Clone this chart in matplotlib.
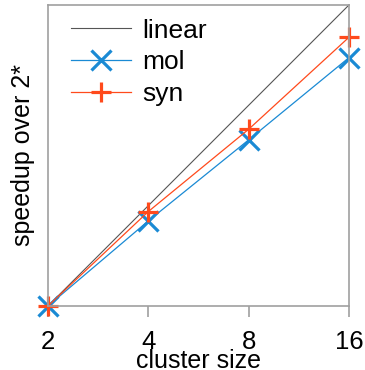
import numpy as np
import matplotlib
matplotlib.use('Agg')
import matplotlib.pyplot as plt
from matplotlib.ticker import NullLocator, FixedLocator, FixedFormatter

# Data
cluster_size = [2, 4, 8, 16]
linear = [1, 2, 4, 8]
mol = [1, 1.80, 3.15, 5.56]
syn = [1, 1.92, 3.39, 6.40]

plt.rcParams['font.family'] = ['Liberation Sans', 'DejaVu Sans']

fig = plt.figure(figsize=(3.65, 3.70), dpi=100)
ax = fig.add_axes([0.1315, 0.173, 0.956 - 0.1315, 0.9865 - 0.173])

ax.plot(cluster_size, linear, color='#555555', lw=0.8, label='linear')
ax.plot(cluster_size, mol, color='#1a8ad4', lw=0.9, marker='x', markersize=14,
        markeredgewidth=2.3, label='mol')
ax.plot(cluster_size, syn, color='#ff4a1c', lw=0.9, marker='+', markersize=14,
        markeredgewidth=2.3, label='syn')

ax.set_xscale('log', base=2)
ax.set_yscale('log', base=2)
ax.set_xlim(2, 16)
ax.set_ylim(1, 8)

ax.xaxis.set_major_locator(FixedLocator(cluster_size))
ax.xaxis.set_major_formatter(FixedFormatter([str(c) for c in cluster_size]))
ax.xaxis.set_minor_locator(NullLocator())
ax.yaxis.set_major_locator(NullLocator())
ax.yaxis.set_minor_locator(NullLocator())

for s in ax.spines.values():
    s.set_color('#a0a0a0')
    s.set_linewidth(1.2)
ax.tick_params(axis='x', direction='out', length=8, width=1.2, color='#a0a0a0',
               labelsize=18.5, pad=9)

ax.set_xlabel('cluster size', fontsize=18, labelpad=-3)
ax.set_ylabel('speedup over 2*', fontsize=18, labelpad=9)

ax.legend(loc='upper left', frameon=False, fontsize=19, handlelength=2.3,
          handletextpad=0.4, labelspacing=0.3, borderaxespad=0.0,
          bbox_to_anchor=(0.04, 0.99))

for line in ax.get_lines():
    line.set_clip_on(False)

fig.savefig('out.png', dpi=100)
